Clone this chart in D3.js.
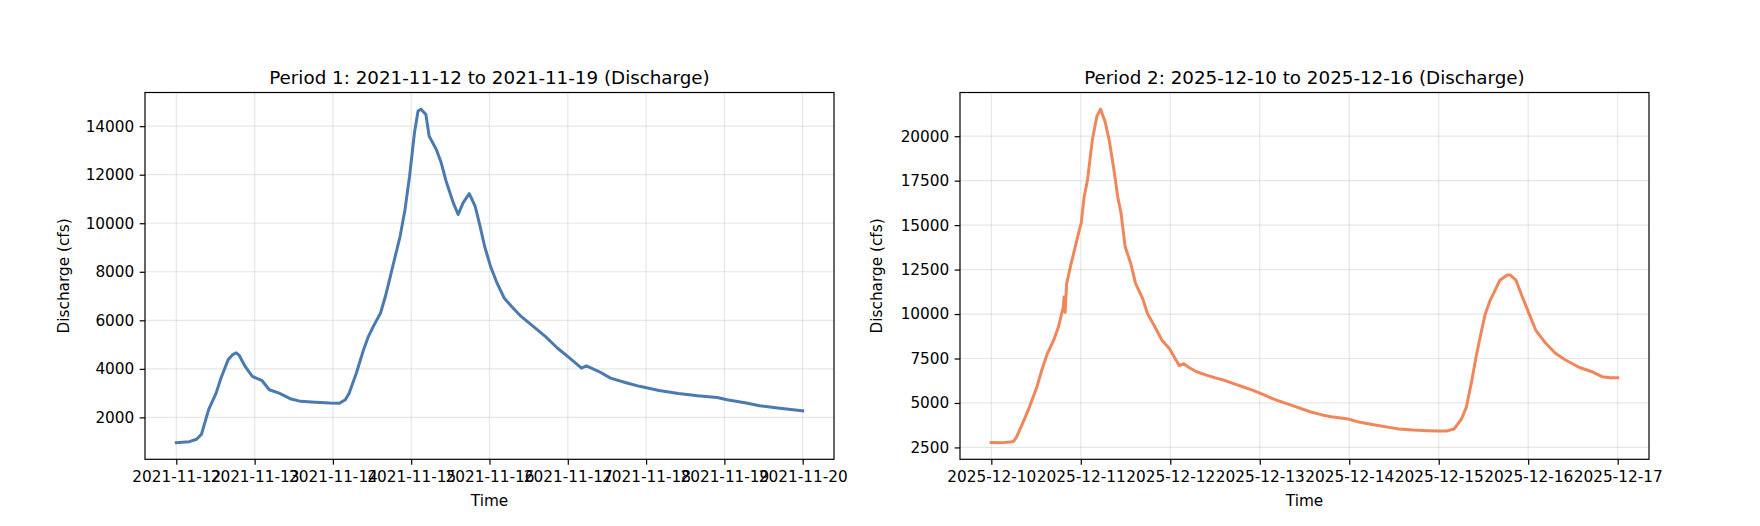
<!DOCTYPE html>
<html>
<head>
<meta charset="utf-8">
<script src="https://cdn.jsdelivr.net/npm/d3@7"></script>
<style>
  html, body { margin: 0; padding: 0; background: #fff; }
  svg { display: block; font-family: "DejaVu Sans", sans-serif; }
</style>
</head>
<body>
<svg id="chart" width="1760" height="526"></svg>
<script>
// ---------------- DATA ----------------
// Period 1 (start 2021-11-12 00:00), hours since start and discharge (cfs)
const p1Start = "2021-11-12T00:00:00";
const p1Hours = [0, 4, 6.2, 7.7, 9.9, 12.2, 13.7, 15.9, 17.4, 18.4, 19.3, 21.1, 23.3, 26.3, 28.5, 31.5,
  35.2, 38.1, 42.6, 47, 50, 51.8, 53, 55.2, 57.4, 58.9, 60.4, 62.6, 64.1, 65.6, 67.1, 68.6, 70.1,
  71.5, 73, 74.1, 75, 76.5, 77.5, 79.7, 81.2, 82.7, 84.9, 86.4, 87.9, 89.8, 91.6, 93.1, 94.5, 96.3,
  98.3, 100.5, 102.7, 105.7, 109.4, 113.1, 116.8, 120.5, 124.2, 125.7, 129.4, 133.1, 137.6, 142,
  148, 153.9, 159.8, 165.8, 168.8, 174.7, 178.8, 185, 192];
const p1Values = [960, 1000, 1100, 1300, 2316, 3000, 3620, 4380, 4600, 4660, 4550, 4100, 3690, 3510, 3140, 3000,
  2756, 2660, 2620, 2590, 2580, 2730, 3000, 3830, 4790, 5340, 5750, 6300, 6990, 7810, 8640, 9460, 10560,
  11940, 13730, 14620, 14700, 14480, 13590, 13040, 12490, 11730, 10840, 10360, 10840, 11220, 10700, 9880, 9050, 8230,
  7540, 6920, 6580, 6160, 5750, 5340, 4860, 4450, 4030, 4120, 3900, 3620, 3440, 3280,
  3110, 2980, 2890, 2820, 2730, 2590, 2480, 2380, 2270];

// Period 2 (start 2025-12-10 00:00), hours since start and discharge (cfs)
const p2Start = "2025-12-10T00:00:00";
const p2Hours = [0, 3.1, 5, 6, 6.7, 8.3, 10.2, 12.2, 13.5, 15, 16.7, 18, 19.3, 19.5, 19.8, 20.2, 21.2, 22.5,
  23.6, 24.1, 24.9, 25.8, 27.1, 28.3, 29.3, 30.5, 31.6, 32.9, 33.9, 34.8, 35.9, 37.4, 38.7, 40.6, 41.9,
  43.9, 45.8, 47.8, 49.1, 50.4, 51.6, 52.9, 54.9, 57.5, 60.1, 62.7, 65.2, 67.8, 70.4, 73, 75.6, 78.2,
  80.8, 83.4, 86, 88.5, 91.1, 93.7, 95.7, 98.9, 101.5, 104.1, 106.7, 109.3, 113.1, 117, 119.6, 122.2,
  124.1, 126.1, 127.4, 128.7, 130, 131.3, 132.5, 133.8, 135.1, 136.4, 138.4, 139.2, 140.7, 142.4, 144.2,
  146, 148.7, 151.3, 154, 157.6, 161.1, 163.8, 166, 168];
const p2Values = [2782, 2770, 2800, 2850, 3064, 3816, 4756, 5884, 6824, 7764, 8516, 9268, 10396, 10960, 10100, 11712, 12652, 13780,
  14720, 15096, 16600, 17540, 19796, 21112, 21520, 20830, 19796, 18104, 16600, 15660, 13780, 12840, 11712, 10866, 10020,
  9268, 8516, 8046, 7576, 7106, 7200, 7012, 6768, 6580, 6410, 6260, 6072, 5884, 5696, 5470, 5226, 5038,
  4850, 4662, 4474, 4342, 4230, 4154, 4098, 3910, 3816, 3722, 3628, 3534, 3478, 3440, 3420, 3430,
  3534, 4098, 4756, 6072, 7576, 8892, 10020, 10772, 11336, 11900, 12200, 12191, 11910, 10972, 10039,
  9101, 8354, 7792, 7416, 7006, 6758, 6478, 6420, 6420];

const p1Title = "Period 1: 2021-11-12 to 2021-11-19 (Discharge)";
const p2Title = "Period 2: 2025-12-10 to 2025-12-16 (Discharge)";
const p1XTicks = ["2021-11-12","2021-11-13","2021-11-14","2021-11-15","2021-11-16","2021-11-17","2021-11-18","2021-11-19","2021-11-20"];
const p2XTicks = ["2025-12-10","2025-12-11","2025-12-12","2025-12-13","2025-12-14","2025-12-15","2025-12-16","2025-12-17"];
const p1YTicks = [2000, 4000, 6000, 8000, 10000, 12000, 14000];
const p2YTicks = [2500, 5000, 7500, 10000, 12500, 15000, 17500, 20000];
const yLabel = "Discharge (cfs)";
const xLabel = "Time";

// ---------------- DRAW ----------------
const svg = d3.select("#chart");
const parse = d3.timeParse("%Y-%m-%dT%H:%M:%S");
const parseDay = d3.timeParse("%Y-%m-%d");
const fmt = d3.timeFormat("%Y-%m-%d");

function build(startStr, hours, values) {
  const t0 = parse(startStr).getTime();
  return hours.map((h, i) => ({ t: new Date(t0 + h * 3600e3), v: values[i] }));
}

function panel(opts) {
  const { left, right, top, bottom, data, title, xTicks, yTicks, color, ylabelX } = opts;
  const g = svg.append("g");
  const tExt = d3.extent(data, d => d.t);
  const vExt = d3.extent(data, d => d.v);
  const tPad = (tExt[1] - tExt[0]) * 0.05;
  const vPad = (vExt[1] - vExt[0]) * 0.05;
  const x = d3.scaleTime()
    .domain([new Date(tExt[0].getTime() - tPad), new Date(tExt[1].getTime() + tPad)])
    .range([left, right]);
  const y = d3.scaleLinear()
    .domain([vExt[0] - vPad, vExt[1] + vPad])
    .range([bottom, top]);
  const xt = xTicks.map(parseDay);

  // grid
  g.append("g").selectAll("line.gx").data(xt).join("line")
    .attr("x1", d => x(d)).attr("x2", d => x(d))
    .attr("y1", top).attr("y2", bottom)
    .attr("stroke", "#b0b0b0").attr("stroke-opacity", 0.3).attr("stroke-width", 1.2);
  g.append("g").selectAll("line.gy").data(yTicks).join("line")
    .attr("y1", d => y(d)).attr("y2", d => y(d))
    .attr("x1", left).attr("x2", right)
    .attr("stroke", "#b0b0b0").attr("stroke-opacity", 0.3).attr("stroke-width", 1.2);

  // line
  const clipId = "clip" + Math.round(left);
  svg.append("clipPath").attr("id", clipId).append("rect")
    .attr("x", left).attr("y", top).attr("width", right - left).attr("height", bottom - top);
  g.append("path").datum(data)
    .attr("clip-path", `url(#${clipId})`)
    .attr("fill", "none").attr("stroke", color).attr("stroke-width", 3)
    .attr("stroke-linejoin", "round").attr("stroke-linecap", "square")
    .attr("d", d3.line().x(d => x(d.t)).y(d => y(d.v)));

  // axes
  const xAxis = d3.axisBottom(x).tickValues(xt).tickFormat(fmt).tickSize(5.35).tickPadding(5.35);
  const yAxis = d3.axisLeft(y).tickValues(yTicks).tickFormat(d3.format("d")).tickSize(5.35).tickPadding(5.35);
  const gx = g.append("g").attr("transform", `translate(0,${bottom})`).call(xAxis);
  const gy = g.append("g").attr("transform", `translate(${left},0)`).call(yAxis);
  [gx, gy].forEach(a => {
    a.select(".domain").remove();
    a.selectAll(".tick line").attr("stroke", "#000").attr("stroke-width", 1.2);
    a.selectAll(".tick text").attr("fill", "#000").attr("font-size", "15.3px")
      .attr("font-family", "DejaVu Sans, sans-serif");
  });
  gx.selectAll(".tick text").attr("dy", "0.76em");

  // frame
  g.append("rect").attr("x", left).attr("y", top)
    .attr("width", right - left).attr("height", bottom - top)
    .attr("fill", "none").attr("stroke", "#000").attr("stroke-width", 1.2);

  // title
  g.append("text").attr("x", (left + right) / 2).attr("y", 83.5)
    .attr("text-anchor", "middle").attr("font-size", "18.3px").attr("fill", "#000")
    .text(title);
  // x label
  g.append("text").attr("x", (left + right) / 2).attr("y", 506)
    .attr("text-anchor", "middle").attr("font-size", "15.3px").attr("fill", "#000")
    .text(xLabel);
  // y label
  const cy = (top + bottom) / 2;
  g.append("text").attr("transform", `translate(${ylabelX},${cy}) rotate(-90)`)
    .attr("text-anchor", "middle").attr("font-size", "15.3px").attr("fill", "#000")
    .text(yLabel);
}

panel({ left: 145, right: 834, top: 92.5, bottom: 459.3,
  data: build(p1Start, p1Hours, p1Values), title: p1Title,
  xTicks: p1XTicks, yTicks: p1YTicks, color: "#4a7ab0", ylabelX: 69 });
panel({ left: 960, right: 1649, top: 92.5, bottom: 459.3,
  data: build(p2Start, p2Hours, p2Values), title: p2Title,
  xTicks: p2XTicks, yTicks: p2YTicks, color: "#f0875a", ylabelX: 882 });
</script>
</body>
</html>
